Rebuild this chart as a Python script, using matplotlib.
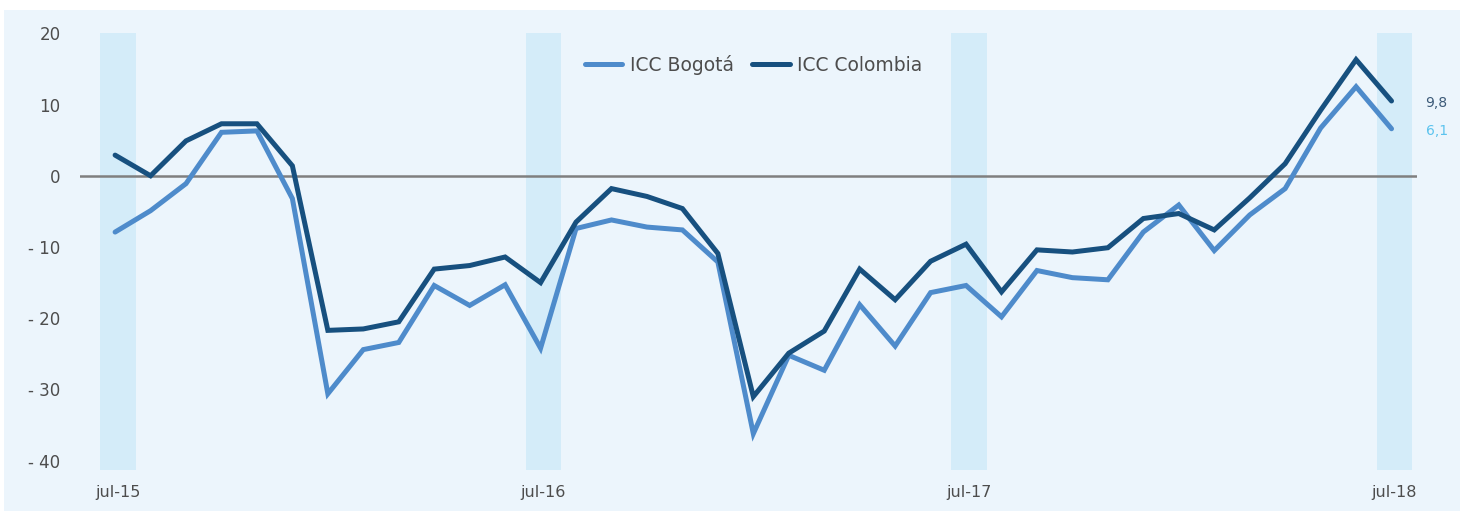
import matplotlib
matplotlib.use("Agg")
import matplotlib.pyplot as plt
from matplotlib.patches import Rectangle

plt.rcParams['font.family'] = ['DejaVu Sans']

# monthly data, jul-15 .. jul-18
icc_bogota = [-7.9, -4.9, -1.1, 6.1, 6.3, -3.2, -30.6, -24.4, -23.4, -15.4, -18.2, -15.3,
              -24.2, -7.4, -6.2, -7.2, -7.6, -12.1, -36.2, -25.2, -27.3, -18.1, -23.9, -16.4,
              -15.4, -19.8, -13.3, -14.3, -14.6, -7.9, -4.1, -10.5, -5.5, -1.8, 6.7, 12.5, 6.6]
icc_colombia = [2.9, 0.0, 4.9, 7.3, 7.3, 1.4, -21.7, -21.5, -20.5, -13.1, -12.6, -11.4,
                -15.0, -6.5, -1.8, -2.9, -4.6, -10.9, -31.0, -24.9, -21.8, -13.1, -17.4, -12.0,
                -9.6, -16.3, -10.4, -10.7, -10.1, -6.0, -5.3, -7.6, -3.1, 1.7, 9.2, 16.3, 10.5]
jul_idx = [0, 12, 24, 36]
jul_labels = ["jul-15", "jul-16", "jul-17", "jul-18"]
yticks = [20, 10, 0, -10, -20, -30, -40]
ytick_labels = ["20", "10", "0", "- 10", "- 20", "- 30", "- 40"]
last_labels = ["9,8", "6,1"]

c_bog = "#4E8BCB"
c_col = "#17507F"
c_band = "#D4ECF9"
c_bg = "#ECF5FC"
c_text = "#4D4D4D"

W, H = 1462, 511
fig = plt.figure(figsize=(W / 100, H / 100), dpi=100)
fig.patch.set_facecolor("white")
fig.patches.append(Rectangle((4 / W, 0), (1460 - 4) / W, (511 - 10) / H,
                             transform=fig.transFigure, facecolor=c_bg, edgecolor="none", zorder=-10))

# axes placed in pixel coordinates
x0, x1 = 80, 1416.7
ytop, ybot = 33.3, 470
ax = fig.add_axes([x0 / W, 1 - ybot / H, (x1 - x0) / W, (ybot - ytop) / H])
ax.set_facecolor("none")

months = list(range(len(icc_bogota)))
ax.set_xlim(-0.99, 36.71)
ax.set_ylim(-41.3, 20)

for j in jul_idx:
    ax.axvspan(j - 0.42, j + 0.58, color=c_band, lw=0, zorder=1)
ax.axhline(0, color="#7F7F7F", lw=1.8, zorder=2)

ax.plot(months, icc_bogota, color=c_bog, lw=3.6, solid_capstyle="round", solid_joinstyle="miter",
        label="ICC Bogotá", zorder=3)
ax.plot(months, icc_colombia, color=c_col, lw=3.6, solid_capstyle="round", solid_joinstyle="miter",
        label="ICC Colombia", zorder=4)

ax.text(36.96, icc_colombia[-1] - 0.3, last_labels[0], color="#3C5A78", fontsize=10, va="center", ha="left")
ax.text(36.96, icc_bogota[-1] - 0.3, last_labels[1], color="#5BC3EE", fontsize=10, va="center", ha="left")

ax.set_yticks(yticks)
ax.set_yticklabels(ytick_labels)
ax.set_xticks([j + 0.08 for j in jul_idx])
ax.set_xticklabels(jul_labels)
ax.tick_params(axis="y", length=0, pad=14, labelsize=12, labelcolor=c_text)
ax.tick_params(axis="x", length=0, pad=11, labelsize=11.5, labelcolor=c_text)
for s in ax.spines.values():
    s.set_visible(False)

leg = ax.legend(loc="upper center", bbox_to_anchor=(0.504, 0.99), ncol=2, frameon=False,
                fontsize=13.5, handlelength=2.0, handletextpad=0.4, columnspacing=1.0,
                labelcolor=c_text)

fig.savefig("out.png", dpi=100)
